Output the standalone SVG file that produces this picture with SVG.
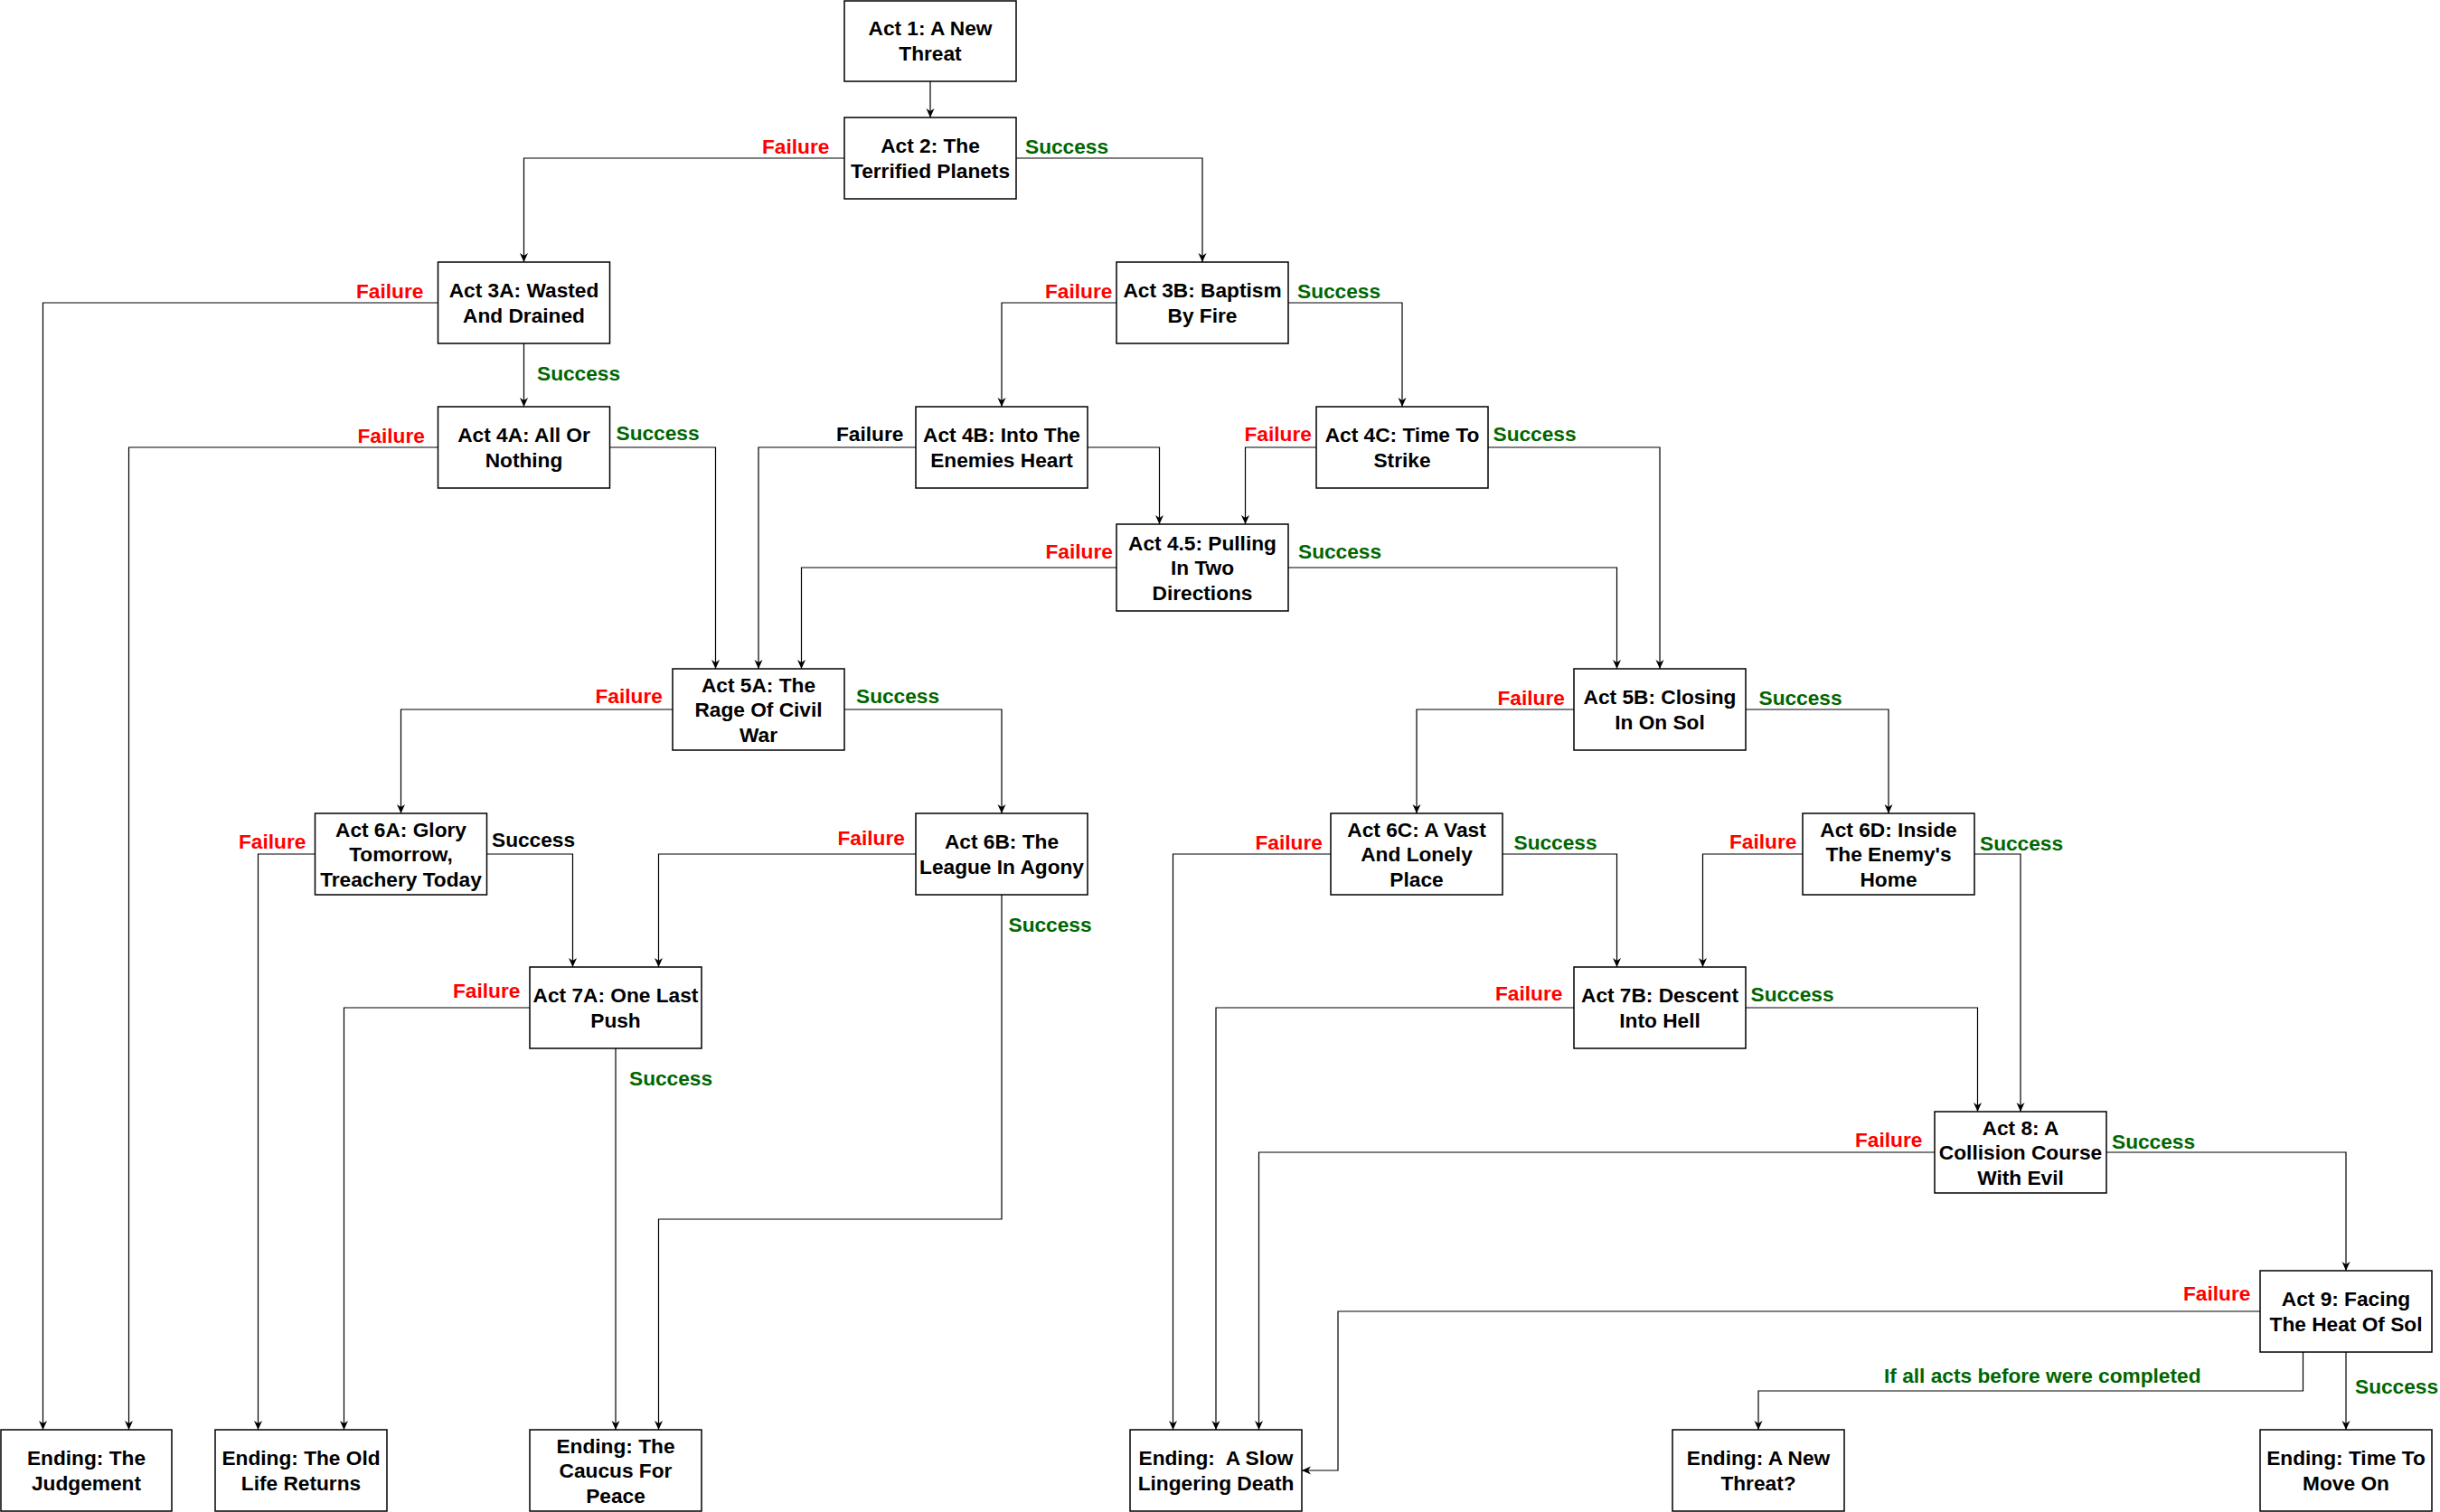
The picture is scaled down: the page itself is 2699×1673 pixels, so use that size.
<svg xmlns="http://www.w3.org/2000/svg" width="2699" height="1673" viewBox="0 0 2699 1673">
<style>
.node rect{fill:#fff;stroke:#000;stroke-width:1.5}
.node text,.lbl{font-family:"Liberation Sans",Arial,sans-serif;font-size:22.7px;font-weight:bold;dominant-baseline:central}
.node text{text-anchor:middle;fill:#000}
.edge{fill:none;stroke:#000;stroke-width:1.2;marker-end:url(#arr)}
.f{fill:#FF0000}.s{fill:#006600}.k{fill:#000}
</style>
<defs>
<marker id="arr" markerUnits="userSpaceOnUse" markerWidth="12" markerHeight="10" refX="10" refY="4.5" orient="auto">
<path d="M0,0 L10,4.5 L0,9 L3,4.5 z" fill="#000"/>
</marker>
</defs>
<rect width="2699" height="1673" fill="#fff"/>
<g id="connectors">
<path class="edge" d="M1029,90 V130"/>
<path class="edge" d="M934,175 H579.5 V290"/>
<path class="edge" d="M1124,175 H1330 V290"/>
<path class="edge" d="M484.5,335 H47.5 V1582"/>
<path class="edge" d="M579.5,380 V450"/>
<path class="edge" d="M1235,335 H1108 V450"/>
<path class="edge" d="M1425,335 H1551 V450"/>
<path class="edge" d="M484.5,495 H142.5 V1582"/>
<path class="edge" d="M674.5,495 H791.5 V740"/>
<path class="edge" d="M1013,495 H839 V740"/>
<path class="edge" d="M1203,495 H1282.5 V580"/>
<path class="edge" d="M1456,495 H1377.5 V580"/>
<path class="edge" d="M1646,495 H1836 V740"/>
<path class="edge" d="M1235,628 H886.5 V740"/>
<path class="edge" d="M1425,628 H1788.5 V740"/>
<path class="edge" d="M744,785 H443.5 V900"/>
<path class="edge" d="M934,785 H1108 V900"/>
<path class="edge" d="M1741,785 H1567 V900"/>
<path class="edge" d="M1931,785 H2089 V900"/>
<path class="edge" d="M348.5,945 H285.5 V1582"/>
<path class="edge" d="M538.5,945 H633.5 V1070"/>
<path class="edge" d="M1013,945 H728.5 V1070"/>
<path class="edge" d="M1108,990 V1349 H728.5 V1582"/>
<path class="edge" d="M586,1115 H380.5 V1582"/>
<path class="edge" d="M681,1160 V1582"/>
<path class="edge" d="M1472,945 H1297.5 V1582"/>
<path class="edge" d="M1662,945 H1788.5 V1070"/>
<path class="edge" d="M1994,945 H1883.5 V1070"/>
<path class="edge" d="M2184,945 H2235 V1230"/>
<path class="edge" d="M1741,1115 H1345 V1582"/>
<path class="edge" d="M1931,1115 H2187.5 V1230"/>
<path class="edge" d="M2140,1275 H1392.5 V1582"/>
<path class="edge" d="M2330,1275 H2595 V1406"/>
<path class="edge" d="M2500,1451 H1480 V1627 H1440"/>
<path class="edge" d="M2547.5,1496 V1539 H1945 V1582"/>
<path class="edge" d="M2595,1496 V1582"/>
</g>
<g id="labels">
<text class="lbl f" x="843" y="162">Failure</text>
<text class="lbl s" x="1134" y="162">Success</text>
<text class="lbl f" x="394" y="321.5">Failure</text>
<text class="lbl f" x="1156" y="322">Failure</text>
<text class="lbl s" x="1435" y="322">Success</text>
<text class="lbl s" x="594" y="413">Success</text>
<text class="lbl f" x="395.5" y="482">Failure</text>
<text class="lbl s" x="681.5" y="479">Success</text>
<text class="lbl k" x="925" y="480">Failure</text>
<text class="lbl f" x="1376.5" y="480">Failure</text>
<text class="lbl s" x="1651.5" y="480">Success</text>
<text class="lbl f" x="1156.5" y="610">Failure</text>
<text class="lbl s" x="1436" y="610">Success</text>
<text class="lbl f" x="658.5" y="770">Failure</text>
<text class="lbl s" x="947" y="770">Success</text>
<text class="lbl f" x="1656.5" y="772">Failure</text>
<text class="lbl s" x="1945.5" y="772">Success</text>
<text class="lbl f" x="264" y="931">Failure</text>
<text class="lbl k" x="544" y="929">Success</text>
<text class="lbl f" x="926.5" y="927">Failure</text>
<text class="lbl s" x="1115.5" y="1023">Success</text>
<text class="lbl f" x="501" y="1096">Failure</text>
<text class="lbl s" x="696" y="1193">Success</text>
<text class="lbl f" x="1388.5" y="932">Failure</text>
<text class="lbl s" x="1674.5" y="932">Success</text>
<text class="lbl f" x="1913" y="931">Failure</text>
<text class="lbl s" x="2190" y="933">Success</text>
<text class="lbl f" x="1654" y="1099">Failure</text>
<text class="lbl s" x="1936.5" y="1100">Success</text>
<text class="lbl f" x="2052" y="1261">Failure</text>
<text class="lbl s" x="2336" y="1263">Success</text>
<text class="lbl f" x="2415" y="1431">Failure</text>
<text class="lbl s" x="2084" y="1522">If all acts before were completed</text>
<text class="lbl s" x="2605" y="1534">Success</text>
</g>
<g id="act1" class="node"><rect x="934" y="1" width="190" height="89"/><text x="1029" y="31.25">Act 1: A New</text><text x="1029" y="58.75">Threat</text></g>
<g id="act2" class="node"><rect x="934" y="130" width="190" height="90"/><text x="1029" y="161.25">Act 2: The</text><text x="1029" y="188.75">Terrified Planets</text></g>
<g id="act3a" class="node"><rect x="484.5" y="290" width="190" height="90"/><text x="579.5" y="321.25">Act 3A: Wasted</text><text x="579.5" y="348.75">And Drained</text></g>
<g id="act3b" class="node"><rect x="1235" y="290" width="190" height="90"/><text x="1330" y="321.25">Act 3B: Baptism</text><text x="1330" y="348.75">By Fire</text></g>
<g id="act4a" class="node"><rect x="484.5" y="450" width="190" height="90"/><text x="579.5" y="481.25">Act 4A: All Or</text><text x="579.5" y="508.75">Nothing</text></g>
<g id="act4b" class="node"><rect x="1013" y="450" width="190" height="90"/><text x="1108" y="481.25">Act 4B: Into The</text><text x="1108" y="508.75">Enemies Heart</text></g>
<g id="act4c" class="node"><rect x="1456" y="450" width="190" height="90"/><text x="1551" y="481.25">Act 4C: Time To</text><text x="1551" y="508.75">Strike</text></g>
<g id="act45" class="node"><rect x="1235" y="580" width="190" height="96"/><text x="1330" y="600.5">Act 4.5: Pulling</text><text x="1330" y="628">In Two</text><text x="1330" y="655.5">Directions</text></g>
<g id="act5a" class="node"><rect x="744" y="740" width="190" height="90"/><text x="839" y="757.5">Act 5A: The</text><text x="839" y="785">Rage Of Civil</text><text x="839" y="812.5">War</text></g>
<g id="act5b" class="node"><rect x="1741" y="740" width="190" height="90"/><text x="1836" y="771.25">Act 5B: Closing</text><text x="1836" y="798.75">In On Sol</text></g>
<g id="act6a" class="node"><rect x="348.5" y="900" width="190" height="90"/><text x="443.5" y="917.5">Act 6A: Glory</text><text x="443.5" y="945">Tomorrow,</text><text x="443.5" y="972.5">Treachery Today</text></g>
<g id="act6b" class="node"><rect x="1013" y="900" width="190" height="90"/><text x="1108" y="931.25">Act 6B: The</text><text x="1108" y="958.75">League In Agony</text></g>
<g id="act6c" class="node"><rect x="1472" y="900" width="190" height="90"/><text x="1567" y="917.5">Act 6C: A Vast</text><text x="1567" y="945">And Lonely</text><text x="1567" y="972.5">Place</text></g>
<g id="act6d" class="node"><rect x="1994" y="900" width="190" height="90"/><text x="2089" y="917.5">Act 6D: Inside</text><text x="2089" y="945">The Enemy's</text><text x="2089" y="972.5">Home</text></g>
<g id="act7a" class="node"><rect x="586" y="1070" width="190" height="90"/><text x="681" y="1101.25">Act 7A: One Last</text><text x="681" y="1128.75">Push</text></g>
<g id="act7b" class="node"><rect x="1741" y="1070" width="190" height="90"/><text x="1836" y="1101.25">Act 7B: Descent</text><text x="1836" y="1128.75">Into Hell</text></g>
<g id="act8" class="node"><rect x="2140" y="1230" width="190" height="90"/><text x="2235" y="1247.5">Act 8: A</text><text x="2235" y="1275">Collision Course</text><text x="2235" y="1302.5">With Evil</text></g>
<g id="act9" class="node"><rect x="2500" y="1406" width="190" height="90"/><text x="2595" y="1437.25">Act 9: Facing</text><text x="2595" y="1464.75">The Heat Of Sol</text></g>
<g id="end1" class="node"><rect x="1" y="1582" width="189" height="90"/><text x="95.5" y="1613.25">Ending: The</text><text x="95.5" y="1640.75">Judgement</text></g>
<g id="end2" class="node"><rect x="238" y="1582" width="190" height="90"/><text x="333" y="1613.25">Ending: The Old</text><text x="333" y="1640.75">Life Returns</text></g>
<g id="end3" class="node"><rect x="586" y="1582" width="190" height="90"/><text x="681" y="1599.5">Ending: The</text><text x="681" y="1627">Caucus For</text><text x="681" y="1654.5">Peace</text></g>
<g id="end4" class="node"><rect x="1250" y="1582" width="190" height="90"/><text x="1345" y="1613.25" xml:space="preserve">Ending:  A Slow</text><text x="1345" y="1640.75">Lingering Death</text></g>
<g id="end5" class="node"><rect x="1850" y="1582" width="190" height="90"/><text x="1945" y="1613.25">Ending: A New</text><text x="1945" y="1640.75">Threat?</text></g>
<g id="end6" class="node"><rect x="2500" y="1582" width="190" height="90"/><text x="2595" y="1613.25">Ending: Time To</text><text x="2595" y="1640.75">Move On</text></g>
</svg>
